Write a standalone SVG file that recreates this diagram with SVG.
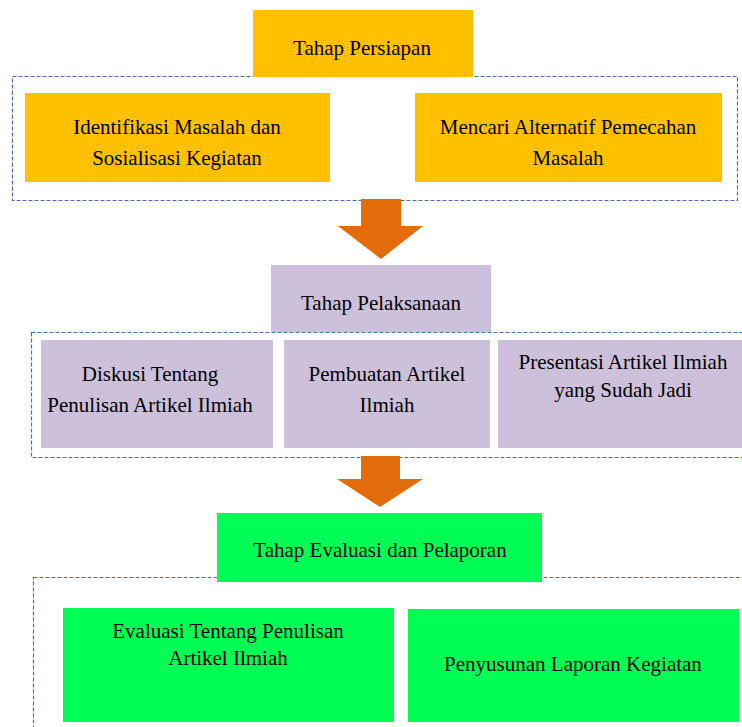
<svg xmlns="http://www.w3.org/2000/svg" width="742" height="727" viewBox="0 0 742 727">
<style>
.t{font-family:"Liberation Serif","Times New Roman",serif;font-size:21px;fill:#000;text-anchor:middle}
.dash{fill:none;stroke:#4F6D9A;stroke-width:1.2;stroke-dasharray:4 2}
.y{fill:#FFC000}
.p{fill:#CCC0DA}
.g{fill:#00FF55}
.arr{fill:#E36C0A}
</style>
<rect width="742" height="727" fill="#fff"/>
<g id="groups">
<rect class="dash" x="12.5" y="76.5" width="725" height="124"/>
<rect class="dash" x="31.5" y="332.5" width="720" height="125"/>
<rect class="dash" x="33.5" y="577.5" width="720" height="160"/>
</g>
<g id="connectors">
<polygon class="arr" points="361,199 401,199 401,226 423,226 381,259 338,226 361,226"/>
<polygon class="arr" points="361,456 400,456 400,479 423,479 380,507 337,479 361,479"/>
</g>
<g id="n-persiapan">
<rect class="y" x="253" y="10" width="220" height="67"/>
<text class="t" x="362" y="55">Tahap Persiapan</text>
</g>
<g id="n-identifikasi">
<rect class="y" x="25" y="93" width="305" height="89"/>
<text class="t" x="177" y="134">Identifikasi Masalah dan</text>
<text class="t" x="177" y="165">Sosialisasi Kegiatan</text>
</g>
<g id="n-mencari">
<rect class="y" x="415" y="93" width="307" height="89"/>
<text class="t" x="568" y="134">Mencari Alternatif Pemecahan</text>
<text class="t" x="568" y="165">Masalah</text>
</g>
<g id="n-pelaksanaan">
<rect class="p" x="271" y="265" width="220" height="67"/>
<text class="t" x="381" y="310">Tahap Pelaksanaan</text>
</g>
<g id="n-diskusi">
<rect class="p" x="41" y="340" width="232" height="108"/>
<text class="t" x="150" y="381">Diskusi Tentang</text>
<text class="t" x="150" y="412">Penulisan Artikel Ilmiah</text>
</g>
<g id="n-pembuatan">
<rect class="p" x="284" y="340" width="206" height="108"/>
<text class="t" x="387" y="381">Pembuatan Artikel</text>
<text class="t" x="387" y="412">Ilmiah</text>
</g>
<g id="n-presentasi">
<rect class="p" x="498" y="340" width="250" height="108"/>
<text class="t" x="623" y="369">Presentasi Artikel Ilmiah</text>
<text class="t" x="623" y="397">yang Sudah Jadi</text>
</g>
<g id="n-evaluasi-pelaporan">
<rect class="g" x="217" y="513" width="325" height="69"/>
<text class="t" x="380" y="557">Tahap Evaluasi dan Pelaporan</text>
</g>
<g id="n-evaluasi">
<rect class="g" x="63" y="608" width="331" height="114"/>
<text class="t" x="228" y="638">Evaluasi Tentang Penulisan</text>
<text class="t" x="228" y="665">Artikel Ilmiah</text>
</g>
<g id="n-penyusunan">
<rect class="g" x="408" y="609" width="331" height="113"/>
<text class="t" x="573" y="671">Penyusunan Laporan Kegiatan</text>
</g>
</svg>
